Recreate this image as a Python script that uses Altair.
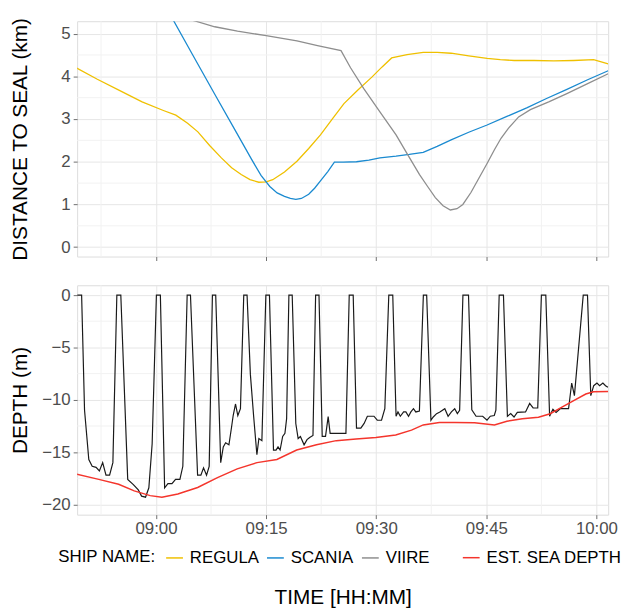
import altair as alt
import pandas as pd

# ---------------- data (minutes after 09:00) ----------------
regula_t = [-10.8, -8, -5, -1.9, 1, 2.7, 4.3, 5.7, 7.3, 8.9, 10.3, 11.6, 12.8, 14.0, 15.0, 15.9,
            17.5, 19.2, 20.8, 22.4, 24.0, 25.6, 27.5, 29.4, 30.8, 32.1, 34.2, 36.4, 38.3, 40.2,
            42.6, 45.1, 46.9, 48.8, 51.5, 54.2, 56.9, 59.6, 61.6]
regula_km = [4.19, 3.93, 3.67, 3.40, 3.20, 3.09, 2.90, 2.70, 2.38, 2.09, 1.86, 1.70, 1.58, 1.52,
             1.53, 1.58, 1.76, 2.01, 2.31, 2.63, 3.00, 3.36, 3.68, 3.98, 4.22, 4.43, 4.51, 4.56,
             4.56, 4.54, 4.48, 4.42, 4.39, 4.37, 4.37, 4.36, 4.37, 4.39, 4.29]

scania_t = [-1, 2.43, 5, 8, 11, 13, 14.3, 15.5, 16.5, 17.5, 18.3, 19.05, 19.8, 20.8, 21.6, 22.4,
            23.4, 24.3, 25.5, 27.3, 29, 30.5, 32.7, 34.5, 36.4, 38.3, 40.2, 42.6, 45.1, 47.8,
            50.5, 53.2, 55.9, 58.8, 61.6]
scania_km = [6.34, 5.29, 4.50, 3.58, 2.67, 2.06, 1.68, 1.42, 1.27, 1.19, 1.14, 1.12, 1.14, 1.24,
             1.38, 1.55, 1.77, 1.99, 1.99, 2.00, 2.04, 2.09, 2.13, 2.17, 2.22, 2.36, 2.51, 2.69,
             2.86, 3.06, 3.26, 3.48, 3.69, 3.92, 4.13]

viire_t = [0, 5.4, 8, 11.1, 15, 19.2, 22, 25.2, 26.5, 28.3, 30.5, 32.7, 34.3, 35.9, 37, 38.05,
           39.1, 40.1, 41, 41.8, 42.9, 44.0, 45.1, 46.1, 47, 48.0, 49.4, 51.0, 53.5, 55.9, 58.8, 61.6]
viire_km = [5.55, 5.29, 5.16, 5.06, 4.95, 4.83, 4.72, 4.60, 4.20, 3.71, 3.17, 2.63, 2.16, 1.70,
            1.42, 1.16, 0.97, 0.87, 0.90, 1.00, 1.28, 1.62, 1.96, 2.28, 2.55, 2.78, 3.05, 3.22,
            3.40, 3.59, 3.83, 4.06]

dive_t = [-10.73, -10.14, -9.74, -9.16, -8.7, -8.17, -7.72, -7.27, -6.82, -6.33, -5.88, -5.34, -4.8,
          -3.86, -3.09, -2.42, -1.97, -1.43, -0.98, -0.53, 0.05, 0.59, 1.17, 1.62, 2.17, 2.66,
          3.25, 3.65, 4.24, 4.69, 5.66, 6.11, 6.47, 6.88, 7.24, 7.68, 8.13, 8.81, 9.16, 9.48,
          9.93, 10.29, 10.51, 10.83, 11.14, 11.5, 11.95, 12.4, 12.85, 13.3, 13.74, 14.01, 14.42,
          14.96, 15.45, 16.0, 16.35, 16.62, 16.9, 17.25, 17.56, 17.79, 18.1, 18.55, 19.04, 19.36,
          19.67, 20.17, 20.57, 20.93, 21.38, 21.74, 22.2, 22.64, 23.09, 23.45, 23.72, 24.17,
          25.87, 26.32, 26.86, 27.31, 27.9, 28.35, 28.79, 29.69, 30.14, 30.72, 31.17, 31.71,
          32.25, 32.7, 32.96, 33.28, 33.73, 34.04, 34.4, 34.72, 35.07, 35.39, 35.88, 36.42,
          36.87, 37.45, 37.77, 38.22, 38.67, 39.34, 39.79, 40.24, 40.69, 41.05, 41.36, 41.81,
          42.57, 43.02, 43.6, 44.5, 45.09, 45.54, 46.08, 46.3, 46.75, 47.33, 47.87, 48.32,
          48.77, 49.22, 50.34, 50.9, 51.37, 52.0, 52.5, 53.1, 53.62, 54.07, 54.5, 55.06, 56.2,
          56.63, 57.0, 58.2, 58.78, 59.23, 59.63, 60.07, 60.43, 60.88, 61.24, 61.56]
dive_d = [0, 0, -11.0, -15.7, -16.35, -16.45, -16.8, -16.0, -17.2, -17.2, -16.0, 0, 0,
          -17.6, -18.1, -18.6, -19.2, -19.3, -18.4, -14.2, 0, 0, -18.4, -18.0, -18.0, -17.6,
          -17.6, -16.35, 0, 0, -17.2, -17.2, -16.5, -17.2, -16.35, 0, 0, -16.0, -14.5, -14.1,
          -14.3, -12.6, -11.5, -10.4, -11.5, -10.85, 0, 0, -7.55, -11.6, -15.25, -13.7, -13.9,
          0, 0, -14.8, -14.8, -14.5, -14.8, -13.5, -13.2, -11.8, 0, 0, -12.26, -13.7,
          -13.5, -14.3, -13.8, -13.6, -13.4, 0, 0, -13.5, -13.5, -11.6, -13.2, -13.2,
          -13.2, 0, 0, -12.7, -12.7, -12.26, -11.57, -11.57, -11.95, -11.95, -10.85, 0,
          0, -11.57, -11.16, -11.57, -11.16, -11.16, -11.57, -11.16, -10.85, -11.16, -11.07, 0,
          0, -11.95, -11.64, -11.32, -11.16, -10.85, -11.57, -11.16, -10.85, -11.32, -11.0, 0,
          0, -10.95, -11.57, -11.57, -11.95, -11.57, -11.5, -11.0, 0, 0, -11.57, -11.32,
          -11.64, -11.2, -11.16, -10.35, -10.78, -10.78, 0, 0, -11.57, -10.9, -11.2, -10.85, -10.85,
          -8.4, -9.6, 0, 0, -9.6, -8.65, -8.4, -8.65, -8.4, -8.65, -8.8]

sea_t = [-10.8, -7.8, -5.1, -2.97, -0.8, 0.8, 2.97, 5.67, 8.37, 11.06, 13.76, 16.46, 19.16,
         21.86, 24.55, 27.25, 29.95, 32.65, 34.8, 36.4, 38.6, 40.7, 43.4, 46.1, 47.8, 49.9,
         52.1, 53.7, 55.3, 56.9, 58.55, 59.6, 61.6]
sea_d = [-17.1, -17.6, -18.06, -18.7, -19.15, -19.3, -19.0, -18.37, -17.43, -16.6, -16.0,
         -15.7, -14.8, -14.3, -13.9, -13.74, -13.6, -13.36, -12.9, -12.4, -12.17, -12.17,
         -12.2, -12.4, -12.05, -11.8, -11.67, -11.33, -10.7, -10.08, -9.45, -9.23, -9.2]

ships = ["REGULA", "SCANIA", "VIIRE"]
ship_colors = ["#EFC000", "#1A8AD0", "#8E8E8E"]
sea_label = "EST. SEA DEPTH"

x_ticks = [0, 15, 30, 45, 60]
x_minor = [-7.5, 7.5, 22.5, 37.5, 52.5]
km_ticks = [0, 1, 2, 3, 4, 5]
km_minor = [0.5, 1.5, 2.5, 3.5, 4.5]
depth_ticks = [0, -5, -10, -15, -20]
depth_minor = [-2.5, -7.5, -12.5, -17.5]

# ---------------- tables ----------------
ship_df = pd.concat([
    pd.DataFrame({"t": regula_t, "km": regula_km, "ship": "REGULA"}),
    pd.DataFrame({"t": scania_t, "km": scania_km, "ship": "SCANIA"}),
    pd.DataFrame({"t": viire_t, "km": viire_km, "ship": "VIIRE"}),
])
dive_df = pd.DataFrame({"t": dive_t, "d": dive_d})
sea_df = pd.DataFrame({"t": sea_t, "d": sea_d, "series": sea_label})

FONT = "Liberation Sans"
W = 537
H_TOP = 238
H_BOT = 232
GRID_MAJOR = "#e6e6e6"
GRID_MINOR = "#f2f2f2"
TICK = "#6e6e6e"

xscale = alt.Scale(domain=[-10.75, 61.6], nice=False, zero=False)
kmscale = alt.Scale(domain=[-0.22, 5.29], nice=False, zero=False)
dscale = alt.Scale(domain=[-20.97, 0.94], nice=False, zero=False)
label_expr = "timeFormat(datetime(2020, 0, 1, 9, datum.value, 0), '%H:%M')"

ylab = dict(labelFont=FONT, labelFontSize=17, labelColor="#4d4d4d", labelPadding=3,
            tickSize=4, tickColor=TICK, domain=False, grid=True, gridColor=GRID_MAJOR,
            titleFont=FONT, titleFontSize=21, titleFontWeight="normal", titleColor="black",
            titleBaseline="middle", titleAngle=270)

x_axis_top = alt.Axis(values=x_ticks, labels=False, title=None, tickSize=4,
                      tickColor=TICK, domain=False, grid=True, gridColor=GRID_MAJOR)
x_axis_bot = alt.Axis(values=x_ticks, labelExpr=label_expr, labelFont=FONT,
                      labelFontSize=17, labelColor="#4d4d4d", labelPadding=2,
                      tickSize=4, tickColor=TICK, domain=False, grid=True,
                      gridColor=GRID_MAJOR, title="TIME [HH:MM]", titleFont=FONT,
                      titleFontSize=21, titleFontWeight="normal", titleColor="black",
                      titleBaseline="alphabetic", titleX=W / 2, titleY=90)
y_axis_top = alt.Axis(values=km_ticks, title="DISTANCE TO SEAL (km)",
                      titleX=-57, titleY=H_TOP / 2, **ylab)
y_axis_bot = alt.Axis(values=depth_ticks, title="DEPTH (m)",
                      titleX=-57, titleY=H_BOT / 2, **ylab)


def vgrid(values, axis):
    return alt.Chart(pd.DataFrame({"v": values})).mark_rule(
        color=GRID_MINOR, strokeWidth=1).encode(
        x=alt.X("v:Q", scale=xscale, axis=axis))


def hgrid(values, scale, axis):
    return alt.Chart(pd.DataFrame({"v": values})).mark_rule(
        color=GRID_MINOR, strokeWidth=1).encode(
        y=alt.Y("v:Q", scale=scale, axis=axis))


# ---------------- top panel ----------------
ship_lines = alt.Chart(ship_df).mark_line(strokeWidth=1.3, clip=True).encode(
    x=alt.X("t:Q", scale=xscale, axis=x_axis_top),
    y=alt.Y("km:Q", scale=kmscale, axis=y_axis_top),
    color=alt.Color("ship:N", scale=alt.Scale(domain=ships, range=ship_colors),
                    legend=alt.Legend(title="SHIP NAME:", orient="none", legendX=-19,
                                      legendY=533, direction="horizontal",
                                      titleOrient="left", titleBaseline="middle",
                                      titleFont=FONT, titleFontSize=17,
                                      titleFontWeight="normal", titleColor="black",
                                      titlePadding=9, labelFont=FONT, labelFontSize=17,
                                      labelColor="black", symbolType="stroke",
                                      symbolSize=289, symbolStrokeWidth=1.5,
                                      labelOffset=6, columnPadding=5, padding=0)),
    order=alt.Order("t:Q"),
)

top = alt.layer(vgrid(x_minor, x_axis_top), hgrid(km_minor, kmscale, y_axis_top),
                ship_lines).properties(width=W, height=H_TOP)

# ---------------- bottom panel ----------------
dive_line = alt.Chart(dive_df).mark_line(color="#1a1a1a", strokeWidth=1.2, clip=True).encode(
    x=alt.X("t:Q", scale=xscale, axis=x_axis_bot),
    y=alt.Y("d:Q", scale=dscale, axis=y_axis_bot),
    order=alt.Order("t:Q"),
)

sea_line = alt.Chart(sea_df).mark_line(strokeWidth=1.5, clip=True).encode(
    x=alt.X("t:Q", scale=xscale, axis=x_axis_bot),
    y=alt.Y("d:Q", scale=dscale, axis=y_axis_bot),
    color=alt.Color("series:N", scale=alt.Scale(domain=[sea_label], range=["#F4352C"]),
                    legend=alt.Legend(title=None, orient="none", legendX=389,
                                      legendY=266, direction="horizontal",
                                      labelFont=FONT, labelFontSize=17, labelColor="black",
                                      symbolType="stroke", symbolSize=289,
                                      symbolStrokeWidth=1.5, labelOffset=6, padding=0)),
    order=alt.Order("t:Q"),
)

bottom = alt.layer(vgrid(x_minor, x_axis_bot), hgrid(depth_minor, dscale, y_axis_bot),
                   dive_line, sea_line).properties(width=W, height=H_BOT)

chart = alt.vconcat(top, bottom, spacing=29, bounds="flush").resolve_scale(
    color="independent"
).properties(
    padding={"left": 9, "top": 13, "right": 2, "bottom": 2},
    background="white",
).configure_view(
    stroke="#7a7a7a", strokeWidth=1
).configure(font=FONT)

chart.save("out.html", embed_options={"renderer": "svg", "actions": False})
